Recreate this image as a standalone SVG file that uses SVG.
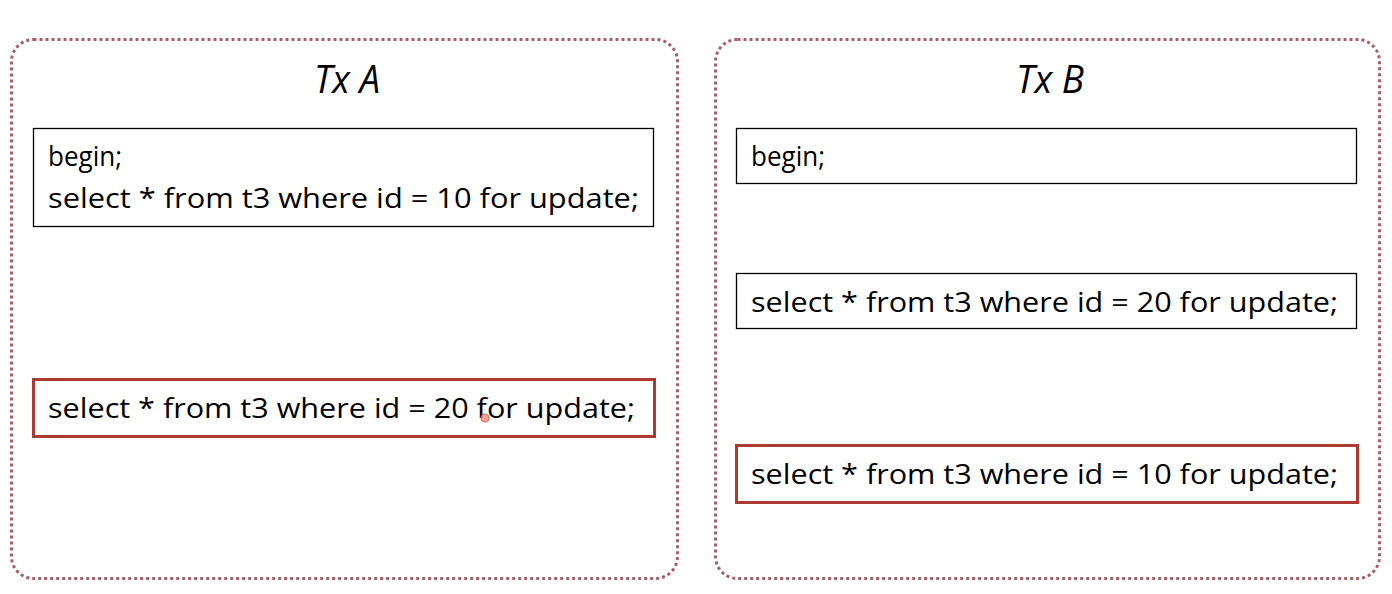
<svg xmlns="http://www.w3.org/2000/svg" width="1392" height="594" viewBox="0 0 1392 594">
  <style>
    .panel { fill: #ffffff; stroke: #a95e66; stroke-width: 3; stroke-dasharray: 3 3; }
    .box { fill: #ffffff; stroke: #000000; stroke-width: 1.3; }
    .hot { fill: #ffffff; stroke: #ad3a30; stroke-width: 3; }
    .code { font-family: "Open Sans", "Liberation Sans", sans-serif; font-size: 28px; fill: #000000; }
    .title { font-family: "Open Sans", "Liberation Sans", sans-serif; font-size: 39px; font-style: italic; fill: #000000; }
  </style>
  <rect width="1392" height="594" fill="#ffffff"/>

  <g id="txA">
    <rect class="panel" x="11.5" y="39.5" width="666" height="539" rx="22"/>
    <text class="title" x="347" y="93" text-anchor="middle" textLength="66" lengthAdjust="spacingAndGlyphs">Tx A</text>
  </g>
  <g id="txB">
    <rect class="panel" x="715.5" y="39.5" width="664" height="539" rx="22"/>
    <text class="title" x="1050" y="93" text-anchor="middle" textLength="68" lengthAdjust="spacingAndGlyphs">Tx B</text>
  </g>

  <g id="a1">
    <rect class="box" x="33.5" y="128.5" width="620" height="98"/>
    <text class="code" x="48" y="166" textLength="74" lengthAdjust="spacingAndGlyphs">begin;</text>
    <text class="code" x="48" y="208" textLength="591" lengthAdjust="spacingAndGlyphs">select * from t3 where id = 10 for update;</text>
  </g>
  <g id="a2">
    <rect class="hot" x="33.5" y="379.5" width="621" height="57"/>
    <text class="code" x="48" y="418" textLength="587" lengthAdjust="spacingAndGlyphs">select * from t3 where id = 20 for update;</text>
    <circle cx="485" cy="418" r="4" fill="#f19a90" stroke="#e0564a" stroke-width="1.2" opacity="0.9"/>
  </g>

  <g id="b1">
    <rect class="box" x="736.5" y="128.5" width="620" height="55"/>
    <text class="code" x="751" y="166" textLength="74" lengthAdjust="spacingAndGlyphs">begin;</text>
  </g>
  <g id="b2">
    <rect class="box" x="736.5" y="273.5" width="620" height="55"/>
    <text class="code" x="751" y="312" textLength="587" lengthAdjust="spacingAndGlyphs">select * from t3 where id = 20 for update;</text>
  </g>
  <g id="b3">
    <rect class="hot" x="736.5" y="445.5" width="621" height="57"/>
    <text class="code" x="751" y="484" textLength="587" lengthAdjust="spacingAndGlyphs">select * from t3 where id = 10 for update;</text>
  </g>

  <g id="connectors"></g>
</svg>
